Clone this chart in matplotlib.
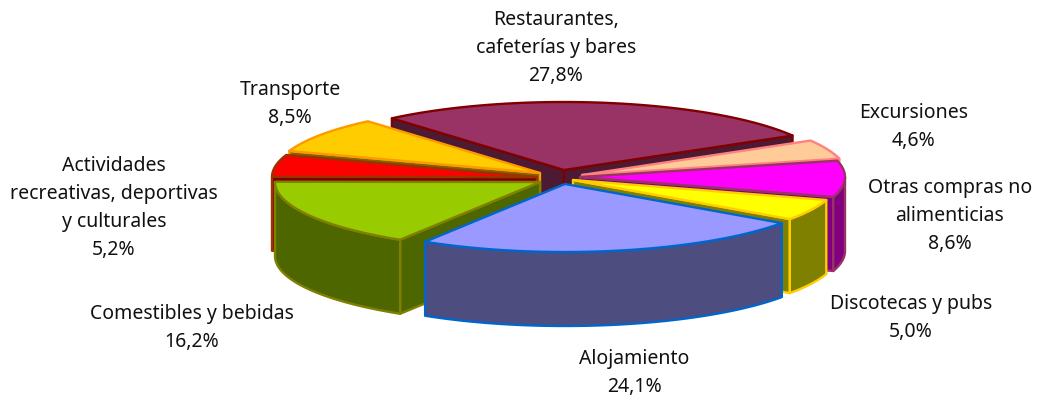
import numpy as np
import matplotlib
matplotlib.use("Agg")
import matplotlib.pyplot as plt
from matplotlib.patches import Polygon

# Data
labels = ["Restaurantes,\ncafeterías y bares", "Excursiones", "Otras compras no\nalimenticias",
          "Discotecas y pubs", "Alojamiento", "Comestibles y bebidas",
          "Actividades\nrecreativas, deportivas\ny culturales", "Transporte"]
values = [27.8, 4.6, 8.6, 5.0, 24.1, 16.2, 5.2, 8.5]

# Styles, same order as the slices
top_colors = ["#993366", "#FFCC99", "#FF00FF", "#FFFF00", "#9999FF", "#99CC00", "#FF0000", "#FFCC00"]
side_colors = ["#4D1A33", "#806633", "#800080", "#808000", "#4D4D80", "#4D6600", "#800000", "#806600"]
edge_colors = ["#800000", "#FF8080", "#993366", "#FFCC00", "#0066CC", "#808000", "#993300", "#FF9900"]

# Apex of each exploded slice, in pixels
apex = [(564, 170), (582, 175), (580, 177), (573, 180), (565, 184), (540, 182), (537, 177), (540, 173)]
label_pos = [(556, 48), (914, 127), (950, 216), (911, 318), (634, 373), (192, 328), (114, 208), (290, 104)]

# far slices get painted first
draw_order = [0, 1, 7, 6, 2, 3, 5, 4]

RX, RY, DEPTH = 265, 68, 74
START = 130.5

plt.rcParams['font.family'] = ['Noto Sans', 'DejaVu Sans']

fig = plt.figure(figsize=(10.38, 4.01), dpi=100)
ax = fig.add_axes([0, 0, 1, 1])
ax.set_xlim(0, 1038)
ax.set_ylim(401, 0)
ax.axis('off')

# start/end angles, clockwise
ends = START - np.cumsum(values) * 3.6
starts = np.concatenate([[START], ends[:-1]])


def pt(c, ang, dz=0):
    a = np.radians(ang)
    return c[0] + RX * np.cos(a), c[1] - RY * np.sin(a) + dz


def face(points, fc, ec, z):
    ax.add_patch(Polygon(points, closed=True, facecolor=fc, edgecolor=ec, linewidth=1.7,
                         joinstyle='round', zorder=z))


z = 1
for i in draw_order:
    c, a0, a1 = apex[i], starts[i], ends[i]
    fc, sc, ec = top_colors[i], side_colors[i], edge_colors[i]
    mid = pt(c, (a0 + a1) / 2)

    # cut faces, skip the ones turned away from the viewer
    for a in (a0, a1):
        p = pt(c, a)
        line_y = c[1] + (p[1] - c[1]) * (mid[0] - c[0]) / (p[0] - c[0])
        if mid[1] < line_y:
            face([c, p, (p[0], p[1] + DEPTH), (c[0], c[1] + DEPTH)], sc, ec, z)
            z += 1

    # outer wall, only the part of the rim facing the viewer
    angs = np.linspace(a0, a1, 80)
    front = angs[np.sin(np.radians(angs)) <= 0]
    if len(front) > 1:
        up = [pt(c, a) for a in front]
        down = [pt(c, a, DEPTH) for a in front[::-1]]
        face(up + down, sc, ec, z)
        z += 1

    # top surface
    face([c] + [pt(c, a) for a in angs], fc, ec, z)
    z += 1

for name, val, (x, y) in zip(labels, values, label_pos):
    txt = name + "\n" + f"{val:.1f}".replace(".", ",") + "%"
    ax.text(x, y, txt, ha='center', va='center', ma='center', fontsize=14,
            linespacing=1.53, color='#111111', zorder=z + 1)

fig.savefig("out.png", dpi=100, facecolor='white')
